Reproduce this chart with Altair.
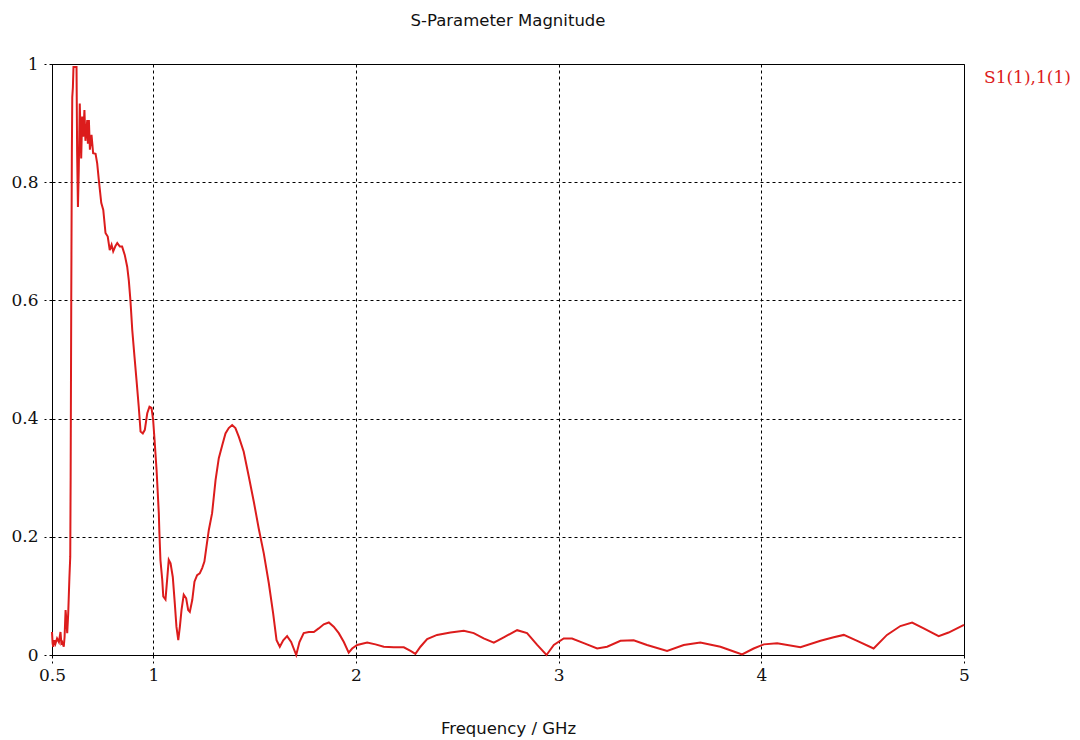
import altair as alt
import pandas as pd

# Frequency sweep (GHz) and |S11| magnitude of port 1
freq_ghz = [
    0.500, 0.503, 0.506, 0.512, 0.517, 0.525, 0.534, 0.542, 0.546, 0.550,
    0.558, 0.562, 0.567, 0.571, 0.575, 0.580, 0.586, 0.590, 0.592, 0.595,
    0.598, 0.600, 0.603, 0.606, 0.621, 0.624, 0.628, 0.632, 0.637, 0.644,
    0.649, 0.654, 0.660, 0.665, 0.674, 0.677, 0.682, 0.687, 0.695, 0.703,
    0.715, 0.723, 0.731, 0.743, 0.753, 0.764, 0.775, 0.785, 0.794, 0.802,
    0.813, 0.822, 0.835, 0.846, 0.859, 0.871, 0.879, 0.887, 0.896, 0.907,
    0.917, 0.928, 0.937, 0.948, 0.958, 0.970, 0.981, 0.991, 0.999, 1.006,
    1.016, 1.027, 1.030, 1.035, 1.044, 1.049, 1.060, 1.068, 1.076, 1.085,
    1.096, 1.106, 1.114, 1.123, 1.131, 1.139, 1.150, 1.162, 1.172, 1.180,
    1.192, 1.203, 1.216, 1.229, 1.241, 1.252, 1.262, 1.274, 1.290, 1.307,
    1.323, 1.340, 1.356, 1.372, 1.389, 1.405, 1.422, 1.446, 1.471, 1.496,
    1.520, 1.545, 1.570, 1.591, 1.608, 1.624, 1.641, 1.660, 1.680, 1.705,
    1.721, 1.742, 1.767, 1.792, 1.816, 1.841, 1.866, 1.890, 1.915, 1.940,
    1.964, 1.981, 2.006, 2.055, 2.096, 2.137, 2.186, 2.236, 2.269, 2.293,
    2.318, 2.351, 2.400, 2.466, 2.532, 2.581, 2.630, 2.680, 2.729, 2.795,
    2.844, 2.894, 2.940, 2.976, 3.025, 3.066, 3.124, 3.190, 3.239, 3.305,
    3.370, 3.436, 3.535, 3.617, 3.699, 3.798, 3.864, 3.905, 3.962, 4.012,
    4.078, 4.193, 4.292, 4.357, 4.407, 4.473, 4.554, 4.620, 4.686, 4.744,
    4.801, 4.875, 4.924, 5.000,
]
s11_mag = [
    0.039, 0.020, 0.014, 0.025, 0.019, 0.028, 0.022, 0.039, 0.020, 0.022,
    0.014, 0.030, 0.076, 0.060, 0.037, 0.070, 0.132, 0.166, 0.300, 0.600,
    0.850, 0.944, 0.960, 0.995, 0.995, 0.850, 0.758, 0.820, 0.933, 0.840,
    0.911, 0.877, 0.922, 0.870, 0.905, 0.865, 0.905, 0.855, 0.880, 0.849,
    0.848, 0.832, 0.804, 0.765, 0.753, 0.714, 0.708, 0.685, 0.694, 0.683,
    0.692, 0.697, 0.691, 0.691, 0.677, 0.657, 0.634, 0.600, 0.550, 0.505,
    0.465, 0.420, 0.378, 0.375, 0.381, 0.409, 0.420, 0.418, 0.398, 0.364,
    0.313, 0.240, 0.206, 0.161, 0.127, 0.099, 0.094, 0.127, 0.161, 0.155,
    0.132, 0.087, 0.048, 0.025, 0.048, 0.076, 0.102, 0.096, 0.076, 0.073,
    0.093, 0.124, 0.135, 0.138, 0.147, 0.158, 0.183, 0.212, 0.240, 0.296,
    0.333, 0.355, 0.375, 0.384, 0.389, 0.384, 0.369, 0.344, 0.302, 0.259,
    0.214, 0.172, 0.121, 0.071, 0.025, 0.014, 0.025, 0.032, 0.022, 0.000,
    0.022, 0.037, 0.039, 0.039, 0.045, 0.052, 0.055, 0.048, 0.037, 0.022,
    0.004, 0.011, 0.017, 0.021, 0.018, 0.014, 0.013, 0.013, 0.007, 0.002,
    0.014, 0.027, 0.034, 0.038, 0.041, 0.037, 0.028, 0.021, 0.030, 0.042,
    0.037, 0.017, 0.000, 0.017, 0.028, 0.028, 0.020, 0.011, 0.014, 0.024,
    0.025, 0.017, 0.007, 0.017, 0.021, 0.014, 0.006, 0.001, 0.011, 0.018,
    0.020, 0.013, 0.024, 0.030, 0.034, 0.024, 0.011, 0.034, 0.049, 0.055,
    0.045, 0.032, 0.038, 0.051,
]
series_name = "S1(1),1(1)"

x_ticks = [0.5, 1, 2, 3, 4, 5]
y_ticks = [0, 0.2, 0.4, 0.6, 0.8, 1]

df = pd.DataFrame({"freq": freq_ghz, "mag": s11_mag, "series": series_name})

LINE_RED = "#dc1c1c"
SANS = "DejaVu Sans"
SERIF = "DejaVu Serif"

chart = (
    alt.Chart(df)
    .mark_line(strokeWidth=2, interpolate="linear")
    .encode(
        x=alt.X(
            "freq:Q",
            scale=alt.Scale(domain=[0.5, 5], nice=False, zero=False),
            axis=alt.Axis(
                values=x_ticks,
                format="~g",
                title="Frequency / GHz",
                titleFont=SANS,
                titleFontSize=16.5,
                titleFontWeight="normal",
                titleColor="#111111",
                titleBaseline="alphabetic",
                titleY=78,
                labelFont=SERIF,
                labelFontSize=17,
                labelColor="#111111",
                labelPadding=4,
                labelFlush=False,
                labelOverlap=False,
                tickSize=8,
                tickColor="black",
                tickDash=[3, 3],
                domainColor="black",
                gridColor="black",
                gridDash=[3, 3],
                gridOpacity=1,
                gridWidth=1,
            ),
        ),
        y=alt.Y(
            "mag:Q",
            scale=alt.Scale(domain=[0, 1], nice=False),
            axis=alt.Axis(
                values=y_ticks,
                format="~g",
                title=None,
                labelFont=SERIF,
                labelFontSize=17,
                labelColor="#111111",
                labelPadding=6,
                labelFlush=False,
                labelOverlap=False,
                tickSize=8,
                tickColor="black",
                tickDash=[3, 3],
                domainColor="black",
                gridColor="black",
                gridDash=[3, 3],
                gridOpacity=1,
                gridWidth=1,
            ),
        ),
        color=alt.Color(
            "series:N",
            scale=alt.Scale(range=[LINE_RED]),
            legend=alt.Legend(
                title=None,
                orient="none",
                legendX=915,
                legendY=5,
                padding=0,
                symbolSize=0,
                symbolStrokeWidth=0,
                symbolOpacity=0,
                labelOffset=0,
                labelFont=SERIF,
                labelFontSize=17,
                labelColor=LINE_RED,
            ),
        ),
    )
    .properties(
        width=912,
        height=591,
        title=alt.TitleParams(
            "S-Parameter Magnitude",
            font=SANS,
            fontSize=16.5,
            fontWeight="normal",
            color="#111111",
            anchor="middle",
            frame="group",
            baseline="alphabetic",
            offset=13,
        ),
        autosize=alt.AutoSizeParams(type="none"),
        padding={"left": 52, "top": 64, "right": 116, "bottom": 85},
        background="white",
    )
    .configure_view(stroke="black", strokeWidth=1)
)

chart.save("out.html", embed_options={"renderer": "svg", "actions": False})
